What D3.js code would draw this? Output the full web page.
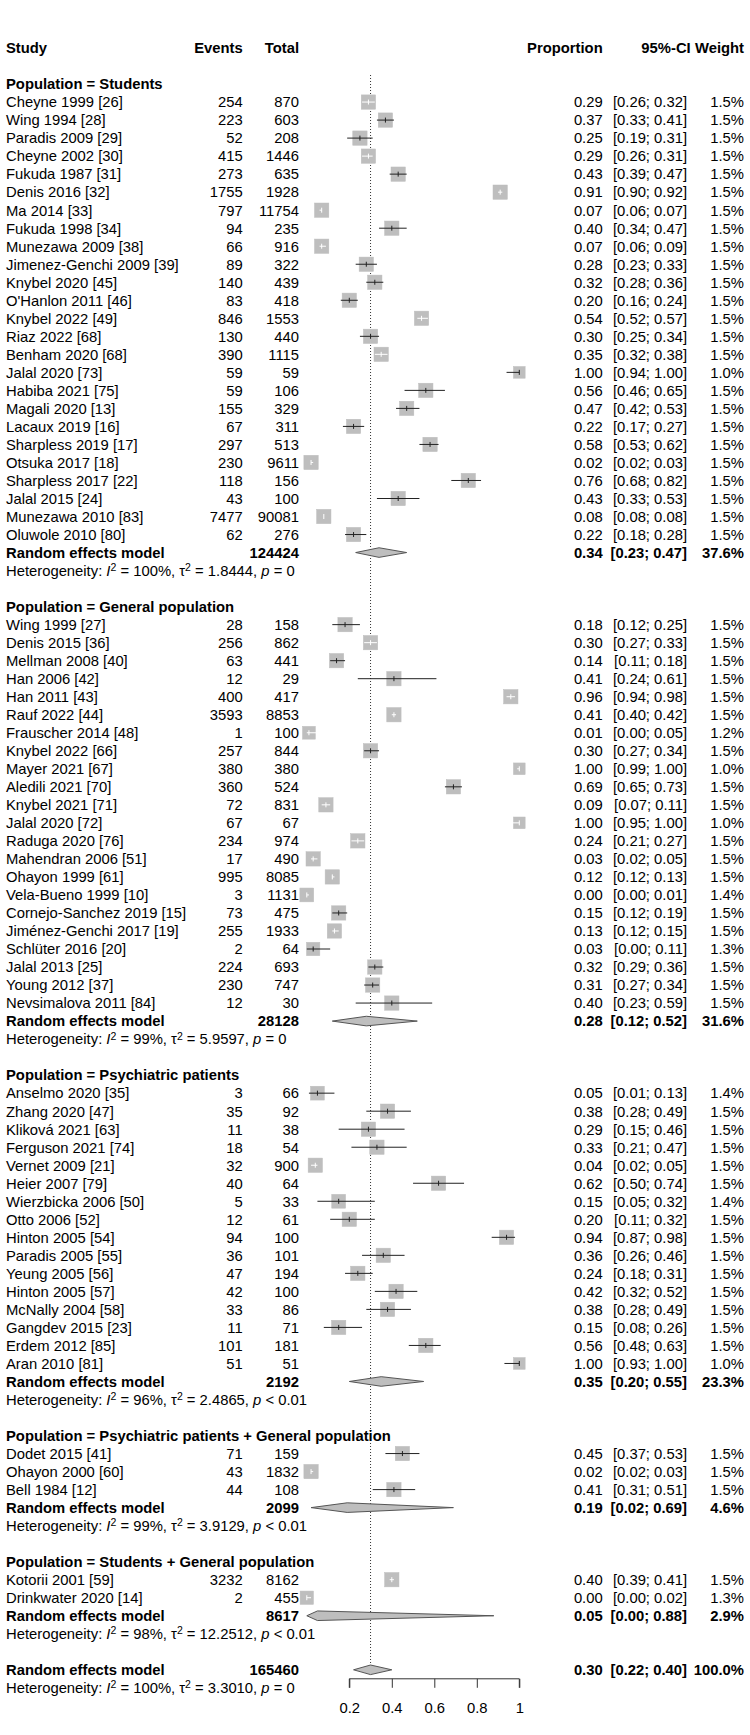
<!DOCTYPE html>
<html>
<head>
<meta charset="utf-8">
<script src="https://cdn.jsdelivr.net/npm/d3@7"></script>
<style>
  body { margin: 0; background: #fff; }
  svg text { font-family: "Liberation Sans", Arial, sans-serif; font-size: 14.8px; fill: #000; }
</style>
</head>
<body>
<div id="content"></div>
<script>
// study rows: [label, events, total, proportion, lower, upper, weight %]
const students = [
    ["Cheyne 1999 [26]", 254, 870, 0.29, 0.26, 0.32, 1.5],
    ["Wing 1994 [28]", 223, 603, 0.37, 0.33, 0.41, 1.5],
    ["Paradis 2009 [29]", 52, 208, 0.25, 0.19, 0.31, 1.5],
    ["Cheyne 2002 [30]", 415, 1446, 0.29, 0.26, 0.31, 1.5],
    ["Fukuda 1987 [31]", 273, 635, 0.43, 0.39, 0.47, 1.5],
    ["Denis 2016 [32]", 1755, 1928, 0.91, 0.90, 0.92, 1.5],
    ["Ma 2014 [33]", 797, 11754, 0.07, 0.06, 0.07, 1.5],
    ["Fukuda 1998 [34]", 94, 235, 0.40, 0.34, 0.47, 1.5],
    ["Munezawa 2009 [38]", 66, 916, 0.07, 0.06, 0.09, 1.5],
    ["Jimenez-Genchi 2009 [39]", 89, 322, 0.28, 0.23, 0.33, 1.5],
    ["Knybel 2020 [45]", 140, 439, 0.32, 0.28, 0.36, 1.5],
    ["O'Hanlon 2011 [46]", 83, 418, 0.20, 0.16, 0.24, 1.5],
    ["Knybel 2022 [49]", 846, 1553, 0.54, 0.52, 0.57, 1.5],
    ["Riaz 2022 [68]", 130, 440, 0.30, 0.25, 0.34, 1.5],
    ["Benham 2020 [68]", 390, 1115, 0.35, 0.32, 0.38, 1.5],
    ["Jalal 2020 [73]", 59, 59, 1.00, 0.94, 1.00, 1.0],
    ["Habiba 2021 [75]", 59, 106, 0.56, 0.46, 0.65, 1.5],
    ["Magali 2020 [13]", 155, 329, 0.47, 0.42, 0.53, 1.5],
    ["Lacaux 2019 [16]", 67, 311, 0.22, 0.17, 0.27, 1.5],
    ["Sharpless 2019 [17]", 297, 513, 0.58, 0.53, 0.62, 1.5],
    ["Otsuka 2017 [18]", 230, 9611, 0.02, 0.02, 0.03, 1.5],
    ["Sharpless 2017 [22]", 118, 156, 0.76, 0.68, 0.82, 1.5],
    ["Jalal 2015 [24]", 43, 100, 0.43, 0.33, 0.53, 1.5],
    ["Munezawa 2010 [83]", 7477, 90081, 0.08, 0.08, 0.08, 1.5],
    ["Oluwole 2010 [80]", 62, 276, 0.22, 0.18, 0.28, 1.5]
];
const general = [
    ["Wing 1999 [27]", 28, 158, 0.18, 0.12, 0.25, 1.5],
    ["Denis 2015 [36]", 256, 862, 0.30, 0.27, 0.33, 1.5],
    ["Mellman 2008 [40]", 63, 441, 0.14, 0.11, 0.18, 1.5],
    ["Han 2006 [42]", 12, 29, 0.41, 0.24, 0.61, 1.5],
    ["Han 2011 [43]", 400, 417, 0.96, 0.94, 0.98, 1.5],
    ["Rauf 2022 [44]", 3593, 8853, 0.41, 0.40, 0.42, 1.5],
    ["Frauscher 2014 [48]", 1, 100, 0.01, 0.00, 0.05, 1.2],
    ["Knybel 2022 [66]", 257, 844, 0.30, 0.27, 0.34, 1.5],
    ["Mayer 2021 [67]", 380, 380, 1.00, 0.99, 1.00, 1.0],
    ["Aledili 2021 [70]", 360, 524, 0.69, 0.65, 0.73, 1.5],
    ["Knybel 2021 [71]", 72, 831, 0.09, 0.07, 0.11, 1.5],
    ["Jalal 2020 [72]", 67, 67, 1.00, 0.95, 1.00, 1.0],
    ["Raduga 2020 [76]", 234, 974, 0.24, 0.21, 0.27, 1.5],
    ["Mahendran 2006 [51]", 17, 490, 0.03, 0.02, 0.05, 1.5],
    ["Ohayon 1999 [61]", 995, 8085, 0.12, 0.12, 0.13, 1.5],
    ["Vela-Bueno 1999 [10]", 3, 1131, 0.00, 0.00, 0.01, 1.4],
    ["Cornejo-Sanchez 2019 [15]", 73, 475, 0.15, 0.12, 0.19, 1.5],
    ["Jiménez-Genchi 2017 [19]", 255, 1933, 0.13, 0.12, 0.15, 1.5],
    ["Schlüter 2016 [20]", 2, 64, 0.03, 0.00, 0.11, 1.3],
    ["Jalal 2013 [25]", 224, 693, 0.32, 0.29, 0.36, 1.5],
    ["Young 2012 [37]", 230, 747, 0.31, 0.27, 0.34, 1.5],
    ["Nevsimalova 2011 [84]", 12, 30, 0.40, 0.23, 0.59, 1.5]
];
const psychiatric = [
    ["Anselmo 2020 [35]", 3, 66, 0.05, 0.01, 0.13, 1.4],
    ["Zhang 2020 [47]", 35, 92, 0.38, 0.28, 0.49, 1.5],
    ["Kliková 2021 [63]", 11, 38, 0.29, 0.15, 0.46, 1.5],
    ["Ferguson 2021 [74]", 18, 54, 0.33, 0.21, 0.47, 1.5],
    ["Vernet 2009 [21]", 32, 900, 0.04, 0.02, 0.05, 1.5],
    ["Heier 2007 [79]", 40, 64, 0.62, 0.50, 0.74, 1.5],
    ["Wierzbicka 2006 [50]", 5, 33, 0.15, 0.05, 0.32, 1.4],
    ["Otto 2006 [52]", 12, 61, 0.20, 0.11, 0.32, 1.5],
    ["Hinton 2005 [54]", 94, 100, 0.94, 0.87, 0.98, 1.5],
    ["Paradis 2005 [55]", 36, 101, 0.36, 0.26, 0.46, 1.5],
    ["Yeung 2005 [56]", 47, 194, 0.24, 0.18, 0.31, 1.5],
    ["Hinton 2005 [57]", 42, 100, 0.42, 0.32, 0.52, 1.5],
    ["McNally 2004 [58]", 33, 86, 0.38, 0.28, 0.49, 1.5],
    ["Gangdev 2015 [23]", 11, 71, 0.15, 0.08, 0.26, 1.5],
    ["Erdem 2012 [85]", 101, 181, 0.56, 0.48, 0.63, 1.5],
    ["Aran 2010 [81]", 51, 51, 1.00, 0.93, 1.00, 1.0]
];
const psychGeneral = [
    ["Dodet 2015 [41]", 71, 159, 0.45, 0.37, 0.53, 1.5],
    ["Ohayon 2000 [60]", 43, 1832, 0.02, 0.02, 0.03, 1.5],
    ["Bell 1984 [12]", 44, 108, 0.41, 0.31, 0.51, 1.5]
];
const studGeneral = [
    ["Kotorii 2001 [59]", 3232, 8162, 0.40, 0.39, 0.41, 1.5],
    ["Drinkwater 2020 [14]", 2, 455, 0.00, 0.00, 0.02, 1.3]
];

const groupTitles = [
    "Population = Students",
    "Population = General population",
    "Population = Psychiatric patients",
    "Population = Psychiatric patients + General population",
    "Population = Students + General population"
];
const groupStudies = [students, general, psychiatric, psychGeneral, studGeneral];

// pooled: [total, proportion, lower, upper, weight %]
const pooled = [
    [124424, 0.34, 0.23, 0.47, 37.6],
    [28128, 0.28, 0.12, 0.52, 31.6],
    [2192, 0.35, 0.20, 0.55, 23.3],
    [2099, 0.19, 0.02, 0.69, 4.6],
    [8617, 0.05, 0.00, 0.88, 2.9]
];
const overall = [165460, 0.30, 0.22, 0.40, 100.0];

// heterogeneity: [I2, tau2, p]
const hetero = [
    ["100%", "1.8444", "= 0"],
    ["99%", "5.9597", "= 0"],
    ["96%", "2.4865", "< 0.01"],
    ["99%", "3.9129", "< 0.01"],
    ["98%", "12.2512", "< 0.01"]
];
const overallHetero = ["100%", "3.3010", "= 0"];

const tickVals = [0.2, 0.4, 0.6, 0.8, 1];

const width = 750, height = 1735;

const svg = d3.select("#content").append("svg")
    .attr("width", width).attr("height", height);

const x = d3.scaleLinear().domain([0.2, 1]).range([349.3, 519.3]);
const y = d3.scaleLinear().domain([0, 1]).range([48, 66.02]);   // line index -> px

const colStudy = 6, colEvents = 242.7, colTotal = 299, colProp = 602.7, colCI = 687, colWeight = 744;

const f2 = d3.format(".2f"), f1 = d3.format(".1f");

// build the row list
let rows = [];
let line = 2;
groupTitles.forEach((t, g) => {
    rows.push({type: "title", line: line++, label: t});
    groupStudies[g].forEach(s => rows.push({type: "study", line: line++, d: s}));
    rows.push({type: "pooled", line: line++, d: pooled[g]});
    rows.push({type: "het", line: line++, d: hetero[g]});
    line++;
});
rows.push({type: "pooled", line: line++, d: overall, overall: true});
rows.push({type: "het", line: line++, d: overallHetero});

function txt(xp, yp, s, anchor, bold) {
    return svg.append("text")
        .attr("x", xp).attr("y", yp).attr("dy", "0.36em")
        .attr("text-anchor", anchor || "start")
        .attr("font-weight", bold ? "bold" : null)
        .text(s);
}

// header
txt(colStudy, y(0), "Study", "start", true);
txt(colEvents, y(0), "Events", "end", true);
txt(colTotal, y(0), "Total", "end", true);
txt(colProp, y(0), "Proportion", "end", true);
txt(690.7, y(0), "95%-CI", "end", true);
txt(colWeight, y(0), "Weight", "end", true);

// reference line at overall estimate
const overallLine = rows.find(r => r.overall).line;
svg.append("line")
    .attr("x1", x(overall[1])).attr("x2", x(overall[1]))
    .attr("y1", 75).attr("y2", y(overallLine) - 4)
    .attr("stroke", "#333").attr("stroke-width", 1)
    .attr("stroke-dasharray", "1,2");

const marks = svg.append("g");

rows.forEach(r => {
    const yy = y(r.line);
    if (r.type === "title") {
        txt(colStudy, yy, r.label, "start", true);
    } else if (r.type === "study") {
        const [lab, ev, tot, p, lo, hi, w] = r.d;
        txt(colStudy, yy, lab);
        txt(colEvents, yy, ev, "end");
        txt(colTotal, yy, tot, "end");
        txt(colProp, yy, f2(p), "end");
        txt(colCI, yy, "[" + f2(lo) + "; " + f2(hi) + "]", "end");
        txt(colWeight, yy, f1(w) + "%", "end");

        const side = 11.7 * Math.sqrt(w);
        const inside = (x(hi) - x(lo)) <= side;
        const col = inside ? "#fff" : "#222";
        marks.append("rect")
            .attr("x", x(p) - side / 2).attr("y", yy - side / 2)
            .attr("width", side).attr("height", side)
            .attr("fill", "#BEBEBE").attr("stroke", "#BEBEBE").attr("stroke-width", 0.5);
        marks.append("line")
            .attr("x1", x(lo)).attr("x2", x(hi))
            .attr("y1", yy).attr("y2", yy)
            .attr("stroke", col).attr("stroke-width", 1);
        marks.append("line")
            .attr("x1", x(p)).attr("x2", x(p))
            .attr("y1", yy - 2.5).attr("y2", yy + 2.5)
            .attr("stroke", col).attr("stroke-width", 1);
    } else if (r.type === "pooled") {
        const [tot, p, lo, hi, w] = r.d;
        txt(colStudy, yy, "Random effects model", "start", true);
        txt(colTotal, yy, tot, "end", true);
        txt(colProp, yy, f2(p), "end", true);
        txt(colCI, yy, "[" + f2(lo) + "; " + f2(hi) + "]", "end", true);
        txt(colWeight, yy, f1(w) + "%", "end", true);
        const hh = 4.8;
        marks.append("path")
            .attr("d", d3.line()([[x(lo), yy], [x(p), yy - hh], [x(hi), yy], [x(p), yy + hh]]) + "Z")
            .attr("fill", "#BEBEBE").attr("stroke", "#555").attr("stroke-width", 1);
    } else if (r.type === "het") {
        const [i2, tau2, pv] = r.d;
        const t = svg.append("text").attr("x", colStudy).attr("y", yy).attr("dy", "0.36em");
        t.append("tspan").text("Heterogeneity: ");
        t.append("tspan").attr("font-style", "italic").text("I");
        t.append("tspan").attr("font-size", "10.5px").attr("dy", "-0.45em").text("2");
        t.append("tspan").attr("dy", "0.31em").text(" = " + i2 + ", \u03C4");
        t.append("tspan").attr("font-size", "10.5px").attr("dy", "-0.45em").text("2");
        t.append("tspan").attr("dy", "0.31em").text(" = " + tau2 + ", ");
        t.append("tspan").attr("font-style", "italic").text("p");
        t.append("tspan").text(" " + pv);
    }
});

// axis
const axisY = y(overallLine) + 9;
const axis = d3.axisBottom(x)
    .tickValues(tickVals)
    .tickFormat(d => d === 1 ? "1" : d3.format(".1f")(d))
    .tickSize(9).tickSizeOuter(0).tickPadding(14.7);
const ga = svg.append("g").attr("transform", "translate(0," + axisY + ")").call(axis);
ga.selectAll("path, line").attr("stroke", "#333");
ga.selectAll("text").style("font-size", "14.8px").style("font-family", "\"Liberation Sans\", Arial, sans-serif").attr("fill", "#000");
ga.select(".domain").attr("d", "M" + x(0.2) + ",9V0H" + x(1) + "V9");
</script>
</body>
</html>
